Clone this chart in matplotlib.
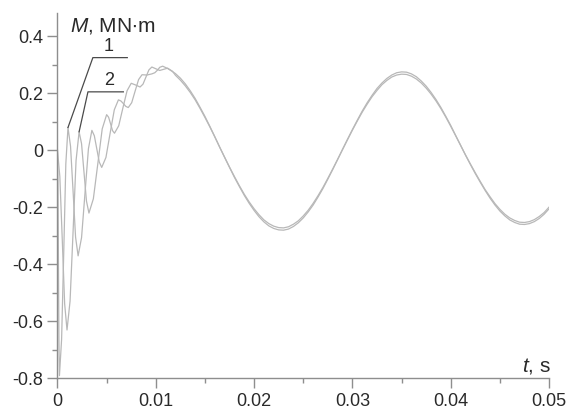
import matplotlib
matplotlib.use('Agg')
import matplotlib.pyplot as plt
from matplotlib.ticker import FixedLocator

plt.rcParams['font.family'] = ['Liberation Sans', 'DejaVu Sans']
plt.rcParams['axes.unicode_minus'] = False
plt.rcParams['mathtext.fontset'] = 'custom'
plt.rcParams['mathtext.it'] = 'Liberation Sans:italic'
plt.rcParams['mathtext.rm'] = 'Liberation Sans'

# start-up part (time in s, torque in MN·m), curve 1
t1_start = [0.0, 0.00005, 0.0001, 0.00015, 0.0002, 0.00042, 0.00064, 0.00085, 0.00107,
            0.00133, 0.00159, 0.00184, 0.0021, 0.00245, 0.0028, 0.00315, 0.0035,
            0.00375, 0.004, 0.00425, 0.0045, 0.00493, 0.00535, 0.00578, 0.0062,
            0.00645, 0.0067, 0.00695, 0.0072, 0.00755, 0.0079, 0.00825, 0.0086,
            0.0091, 0.0096, 0.0099, 0.0102, 0.0104, 0.0107, 0.0112, 0.0117, 0.012]
m1_start = [0.0, -0.12, -0.40, -0.67, -0.79, -0.663, -0.355, -0.047, 0.08,
            0.014, -0.145, -0.304, -0.37, -0.306, -0.15, 0.006, 0.07,
            0.051, 0.005, -0.041, -0.06, -0.025, 0.059, 0.142, 0.177,
            0.173, 0.164, 0.154, 0.15, 0.167, 0.208, 0.248, 0.265,
            0.264, 0.268, 0.272, 0.282, 0.291, 0.295, 0.287, 0.276, 0.269]

# start-up part, curve 2
t2_start = [0.0, 0.00024, 0.00049, 0.00073, 0.00097, 0.00128, 0.00159, 0.00189, 0.0022,
            0.00245, 0.0027, 0.00295, 0.0032, 0.00365, 0.0041, 0.00455, 0.005,
            0.0052, 0.0054, 0.0056, 0.0058, 0.00623, 0.00665, 0.00708, 0.0075,
            0.00795, 0.0084, 0.0087, 0.009, 0.0093, 0.0096, 0.01, 0.0104, 0.0108,
            0.0112, 0.0117, 0.012]
m2_start = [0.0, -0.092, -0.315, -0.538, -0.63, -0.529, -0.283, -0.036, 0.065,
            0.023, -0.078, -0.178, -0.22, -0.170, -0.048, 0.075, 0.125,
            0.116, 0.093, 0.069, 0.06, 0.086, 0.148, 0.209, 0.235,
            0.229, 0.222, 0.232, 0.257, 0.282, 0.292, 0.286, 0.28, 0.284,
            0.288, 0.277, 0.263]

# steady part, both curves read at the same times
t_main = [0.0125, 0.013, 0.0135, 0.014, 0.0145, 0.015, 0.0155, 0.016, 0.0165, 0.017,
          0.0175, 0.018, 0.0185, 0.019, 0.0195, 0.020, 0.0205, 0.021, 0.0215, 0.022,
          0.0225, 0.023, 0.0235, 0.024, 0.0245, 0.025, 0.0255, 0.026, 0.0265, 0.027,
          0.0275, 0.028, 0.0285, 0.029, 0.0295, 0.030, 0.0305, 0.031, 0.0315, 0.032,
          0.0325, 0.033, 0.0335, 0.034, 0.0345, 0.035, 0.0355, 0.036, 0.0365, 0.037,
          0.0375, 0.038, 0.0385, 0.039, 0.0395, 0.040, 0.0405, 0.041, 0.0415, 0.042,
          0.0425, 0.043, 0.0435, 0.044, 0.0445, 0.045, 0.0455, 0.046, 0.0465, 0.047,
          0.0475, 0.048, 0.0485, 0.049, 0.0495, 0.050]
m1_main = [0.253, 0.233, 0.209, 0.182, 0.151, 0.119, 0.084, 0.048, 0.011, -0.025,
           -0.060, -0.095, -0.127, -0.158, -0.186, -0.211, -0.233, -0.251, -0.265, -0.274,
           -0.279, -0.280, -0.276, -0.267, -0.254, -0.237, -0.216, -0.192, -0.164, -0.134,
           -0.101, -0.067, -0.032, 0.004, 0.039, 0.073, 0.106, 0.138, 0.167, 0.193,
           0.217, 0.236, 0.252, 0.264, 0.272, 0.275, 0.274, 0.268, 0.258, 0.243,
           0.225, 0.203, 0.178, 0.150, 0.119, 0.087, 0.052, 0.018, -0.017, -0.050,
           -0.082, -0.112, -0.141, -0.168, -0.192, -0.213, -0.230, -0.244, -0.253, -0.259,
           -0.260, -0.257, -0.250, -0.239, -0.224, -0.205]
m2_main = [0.246, 0.226, 0.203, 0.177, 0.147, 0.115, 0.082, 0.047, 0.011, -0.024,
           -0.059, -0.092, -0.124, -0.154, -0.181, -0.205, -0.226, -0.244, -0.257, -0.266,
           -0.271, -0.272, -0.268, -0.259, -0.247, -0.230, -0.210, -0.186, -0.159, -0.130,
           -0.098, -0.065, -0.031, 0.003, 0.037, 0.071, 0.103, 0.134, 0.162, 0.188,
           0.210, 0.230, 0.245, 0.257, 0.264, 0.267, 0.266, 0.260, 0.250, 0.236,
           0.218, 0.197, 0.173, 0.146, 0.116, 0.084, 0.051, 0.017, -0.016, -0.048,
           -0.079, -0.109, -0.138, -0.163, -0.187, -0.207, -0.224, -0.237, -0.246, -0.252,
           -0.253, -0.250, -0.243, -0.232, -0.218, -0.199]

y_major = [-0.8, -0.6, -0.4, -0.2, 0, 0.2, 0.4]
y_labels = ['-0.8', '-0.6', '-0.4', '-0.2', '0', '0.2', '0.4']
x_major = [0, 0.01, 0.02, 0.03, 0.04, 0.05]
x_labels = ['0', '0.01', '0.02', '0.03', '0.04', '0.05']

t1 = t1_start + t_main
m1 = m1_start + m1_main
t2 = t2_start + t_main
m2 = m2_start + m2_main

fig = plt.figure(figsize=(5.69, 4.09), dpi=100)
ax = fig.add_axes([0.101, 0.0746, 0.864, 0.894])

line_col = '#b8b8b8'
ax.plot(t1, m1, color=line_col, lw=0.9)
ax.plot(t2, m2, color=line_col, lw=0.9)

ax.set_xlim(0, 0.05)
ax.set_ylim(-0.8, 0.482)

for s in ['top', 'right']:
    ax.spines[s].set_visible(False)
for s in ['left', 'bottom']:
    ax.spines[s].set_color('#8e8e8e')
    ax.spines[s].set_linewidth(1.0)

ax.set_xticks(x_major)
ax.set_xticklabels(x_labels)
ax.set_yticks(y_major)
ax.set_yticklabels(y_labels)
ax.xaxis.set_minor_locator(FixedLocator([0.005, 0.015, 0.025, 0.035, 0.045]))
ax.yaxis.set_minor_locator(FixedLocator([-0.7, -0.5, -0.3, -0.1, 0.1, 0.3]))
ax.tick_params(which='major', direction='out', length=7, width=1.0,
               color='#8e8e8e', labelsize=13, labelcolor='#2a2a2a', pad=3.5)
ax.tick_params(which='minor', direction='out', length=3.5, width=1.0,
               color='#8e8e8e')

# axis titles
ax.text(0.0013, 0.418, '$\\mathit{M}$, MN∙m', fontsize=15, color='#2a2a2a',
        ha='left', va='baseline')
ax.text(0.0472, -0.777, '$\\mathit{t}$, s', fontsize=15, color='#2a2a2a',
        ha='left', va='baseline')

# curve labels with leader lines
lead_col = '#4a4a4a'
ax.plot([t1[8], 0.0036, 0.0071], [m1[8], 0.325, 0.325], color=lead_col, lw=0.9)
ax.plot([t2[8], 0.0031, 0.0067], [m2[8], 0.205, 0.205], color=lead_col, lw=0.9)
ax.text(0.0052, 0.335, '1', fontsize=13, color='#2a2a2a', ha='center', va='bottom')
ax.text(0.0053, 0.214, '2', fontsize=13, color='#2a2a2a', ha='center', va='bottom')

fig.savefig('out.png', dpi=100)
